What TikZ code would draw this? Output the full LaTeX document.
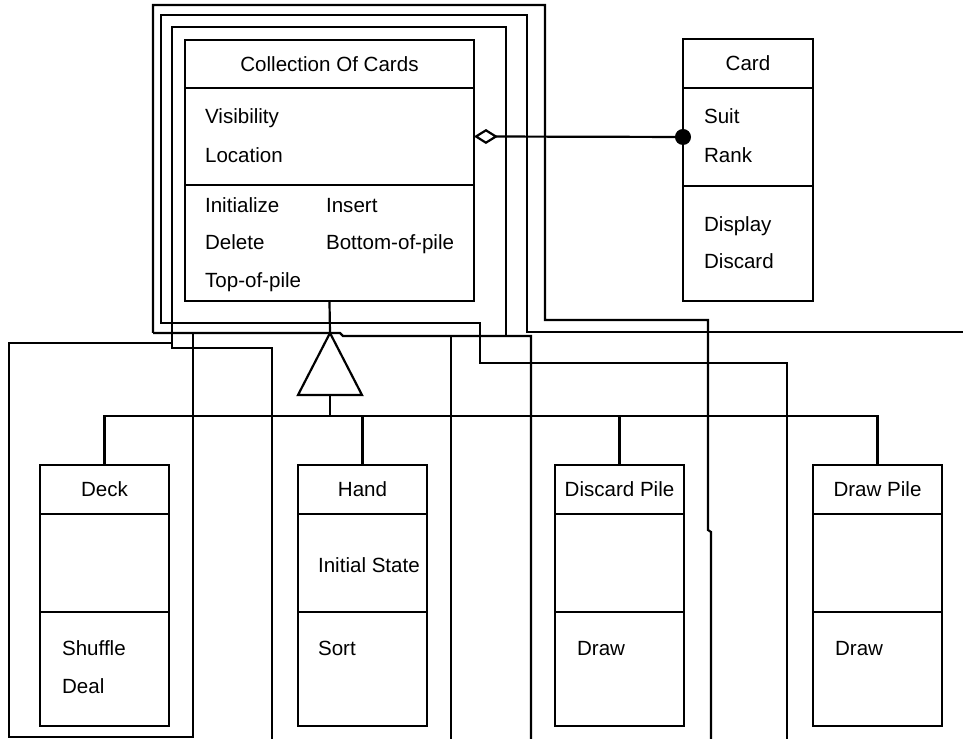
\documentclass[tikz,border=0pt]{standalone}
\usepackage{fontspec}
\setmainfont{Liberation Sans}
\usetikzlibrary{positioning,arrows.meta}

\tikzset{
  clsbox/.style={draw, inner sep=0pt, outer sep=0pt},
  wide/.style={clsbox, minimum width=5.78cm},
  small/.style={clsbox, minimum width=2.58cm},
  txt/.style={anchor=base west, inner sep=0pt},
  agg/.style={{Diamond[open,length=0.48cm,width=0.3cm]}-{Circle[length=0.32cm]}, shorten >=-0.16cm}
}

\begin{document}
\begin{tikzpicture}[x=0.02cm, y=-0.02cm, line width=1.25pt, font=\fontsize{11.7}{13}\selectfont]
  \useasboundingbox (0,0) rectangle (963,739);

  % package outlines
  \draw (153,333) -- (153,5) -- (545,5) -- (545,320) -- (708,320) -- (708,530) -- (711,532) -- (711,739);
  \draw (153,333) -- (340,333) -- (343,336) -- (531,336) -- (531,739);
  \draw (963,332) -- (527,332) -- (527,15) -- (161,15) -- (161,323) -- (480,323) -- (480,363) -- (787,363) -- (787,739);
  \draw (506,336) -- (506,27) -- (172,27) -- (172,348) -- (272,348) -- (272,739);
  \draw (451,336) -- (451,739);
  \draw (193,333) -- (193,737) -- (9,737) -- (9,343) -- (172,343);

  % collection of cards
  \node[wide, minimum height=0.96cm, anchor=north west] (coll) at (185,40) {Collection Of Cards};
  \node[wide, minimum height=1.94cm, below=0pt of coll] (coll-attr) {};
  \node[wide, minimum height=2.32cm, below=0pt of coll-attr] (coll-ops) {};
  \node[txt] (t-vis) at (204,124) {Visibility};
  \node[txt] (t-loc) at (204,163) {Location};
  \node[txt] (t-init) at (204,213) {Initialize};
  \node[txt] (t-ins) at (325,213) {Insert};
  \node[txt] (t-del) at (204,250) {Delete};
  \node[txt] (t-bot) at (325,250) {Bottom-of-pile};
  \node[txt] (t-top) at (204,288) {Top-of-pile};

  % card
  \node[clsbox, minimum width=2.6cm, minimum height=0.98cm, anchor=north west] (card) at (683,39) {Card};
  \node[clsbox, minimum width=2.6cm, minimum height=1.96cm, below=0pt of card] (card-attr) {};
  \node[clsbox, minimum width=2.6cm, minimum height=2.3cm, below=0pt of card-attr] (card-ops) {};
  \node[txt] (t-suit) at (703,124) {Suit};
  \node[txt] (t-rank) at (703,163) {Rank};
  \node[txt] (t-disp) at (703,232) {Display};
  \node[txt] (t-disc) at (703,269) {Discard};

  % subclasses
  \node[small, minimum height=0.98cm, anchor=north west] (deck) at (40,465) {Deck};
  \node[small, minimum height=1.96cm, below=0pt of deck] (deck-attr) {};
  \node[small, minimum height=2.28cm, below=0pt of deck-attr] (deck-ops) {};
  \node[txt] (t-shuf) at (61,655) {Shuffle};
  \node[txt] (t-deal) at (61,693) {Deal};

  \node[small, minimum height=0.98cm, anchor=north west] (hand) at (298,465) {Hand};
  \node[small, minimum height=1.96cm, below=0pt of hand] (hand-attr) {};
  \node[small, minimum height=2.28cm, below=0pt of hand-attr] (hand-ops) {};
  \node[txt] (t-state) at (317,572) {Initial State};
  \node[txt] (t-sort) at (317,655) {Sort};

  \node[small, minimum height=0.98cm, anchor=north west] (discard) at (555,465) {Discard Pile};
  \node[small, minimum height=1.96cm, below=0pt of discard] (discard-attr) {};
  \node[small, minimum height=2.28cm, below=0pt of discard-attr] (discard-ops) {};
  \node[txt] (t-draw1) at (576,655) {Draw};

  \node[small, minimum height=0.98cm, anchor=north west] (drawpile) at (813,465) {Draw Pile};
  \node[small, minimum height=1.96cm, below=0pt of drawpile] (drawpile-attr) {};
  \node[small, minimum height=2.28cm, below=0pt of drawpile-attr] (drawpile-ops) {};
  \node[txt] (t-draw2) at (834,655) {Draw};

  % aggregation
  \draw[agg] (coll-attr.east) -- (card-attr.west);

  % generalization
  \coordinate (apex) at (330,333);
  \coordinate (base) at (330,395);
  \coordinate (bus) at (330,416);
  \draw[fill=white] (apex) -- (298,395) -- (362,395) -- cycle;
  \draw (coll-ops.south) -- (apex);
  \draw (base) -- (bus);
  \foreach \c in {deck,hand,discard,drawpile}
    \draw (bus) -| (\c.north);
\end{tikzpicture}
\end{document}
